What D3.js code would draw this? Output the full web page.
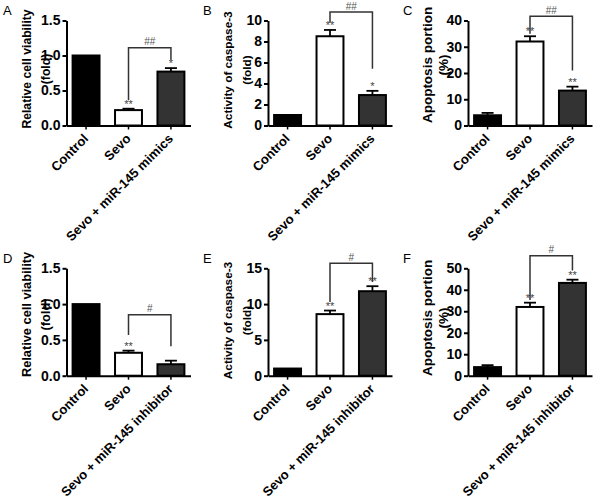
<!DOCTYPE html>
<html>
<head>
<meta charset="utf-8">
<script src="https://cdn.jsdelivr.net/npm/d3@7"></script>
<style>
  html, body { margin: 0; padding: 0; background: #fff; }
  svg { display: block; }
  text { font-family: "Liberation Sans", Arial, sans-serif; }
</style>
</head>
<body>
<svg id="chart" width="600" height="503"></svg>
<script>
// ---------------- DATA ----------------
const categoriesMimics = ["Control", "Sevo", "Sevo + miR-145 mimics"];
const categoriesInhibitor = ["Control", "Sevo", "Sevo + miR-145 inhibitor"];

const viabilityMimics = [1.0, 0.22, 0.77];
const viabilityMimicsErr = [0, 0.02, 0.05];
const caspaseMimics = [1.0, 8.5, 2.9];
const caspaseMimicsErr = [0, 0.6, 0.4];
const apoptosisMimics = [3.9, 32.0, 13.3];
const apoptosisMimicsErr = [0.9, 2.0, 1.5];

const viabilityInhibitor = [1.0, 0.32, 0.16];
const viabilityInhibitorErr = [0, 0.03, 0.05];
const caspaseInhibitor = [1.0, 8.6, 11.8];
const caspaseInhibitorErr = [0, 0.5, 0.7];
const apoptosisInhibitor = [4.0, 32.0, 43.2];
const apoptosisInhibitorErr = [0.9, 2.0, 1.5];

const starsA = ["", "**", "*"];
const starsB = ["", "**", "*"];
const starsC = ["", "**", "**"];
const starsD = ["", "**", ""];
const starsE = ["", "**", "**"];
const starsF = ["", "**", "**"];

// bracket between Sevo and treated group: [top level, left leg end, right leg end] in data units
const bracketA = [1.11, 0.36, 0.94];
const bracketB = [10.8, 9.8, 5.4];
const bracketC = [41.6, 35.0, 21.0];
const bracketD = [0.85, 0.57, 0.41];
const bracketE = [15.7, 10.3, 13.1];
const bracketF = [55.8, 35.3, 49.0];
const bracketLabelsTop = "##";
const bracketLabelsBottom = "#";

const ticksViability = [0, 0.5, 1.0, 1.5];
const ticksCaspaseMimics = [0, 2, 4, 6, 8, 10];
const ticksApoptosisMimics = [0, 10, 20, 30, 40];
const ticksCaspaseInhibitor = [0, 5, 10, 15];
const ticksApoptosisInhibitor = [0, 10, 20, 30, 40, 50];

const titleViability = ["Relative cell viability", "(fold)"];
const titleCaspase = ["Activity of caspase-3", "(fold)"];
const titleApoptosis = ["Apoptosis portion", "(%)"];

const panelLetters = ["A", "B", "C", "D", "E", "F"];

// ---------------- LAYOUT / STYLE ----------------
const colAxisX = [66.5, 268, 468];
const rowZero = [125.5, 375.7];
const rowTop = [20.5, 268.3];
const letterX = [3, 203, 403];
const letterY = [15, 263];
const barFills = ["#000000", "#ffffff", "#333333"];

const panels = [
  {cats: categoriesMimics, vals: viabilityMimics, errs: viabilityMimicsErr, stars: starsA, br: bracketA, brl: bracketLabelsTop, ticks: ticksViability, fmt: d3.format(".1f"), title: titleViability, col: 0, row: 0, tfs: 12.2, tcy: 69, t1: -36, t2: -17},
  {cats: categoriesMimics, vals: caspaseMimics, errs: caspaseMimicsErr, stars: starsB, br: bracketB, brl: bracketLabelsTop, ticks: ticksCaspaseMimics, fmt: d3.format("d"), title: titleCaspase, col: 1, row: 0, tfs: 11.8, tcy: 70, t1: -36, t2: -17},
  {cats: categoriesMimics, vals: apoptosisMimics, errs: apoptosisMimicsErr, stars: starsC, br: bracketC, brl: bracketLabelsTop, ticks: ticksApoptosisMimics, fmt: d3.format("d"), title: titleApoptosis, col: 2, row: 0, tfs: 13.5, tcy: 65, t1: -36, t2: -20},
  {cats: categoriesInhibitor, vals: viabilityInhibitor, errs: viabilityInhibitorErr, stars: starsD, br: bracketD, brl: bracketLabelsBottom, ticks: ticksViability, fmt: d3.format(".1f"), title: titleViability, col: 0, row: 1, tfs: 12.8, tcy: 314.5, t1: -36, t2: -17},
  {cats: categoriesInhibitor, vals: caspaseInhibitor, errs: caspaseInhibitorErr, stars: starsE, br: bracketE, brl: bracketLabelsBottom, ticks: ticksCaspaseInhibitor, fmt: d3.format("d"), title: titleCaspase, col: 1, row: 1, tfs: 11.8, tcy: 320.5, t1: -36, t2: -17},
  {cats: categoriesInhibitor, vals: apoptosisInhibitor, errs: apoptosisInhibitorErr, stars: starsF, br: bracketF, brl: bracketLabelsBottom, ticks: ticksApoptosisInhibitor, fmt: d3.format("d"), title: titleApoptosis, col: 2, row: 1, tfs: 13.5, tcy: 318, t1: -36, t2: -20}
];

const svg = d3.select("#chart");

panels.forEach((p, i) => {
  const ax = colAxisX[p.col];
  const zero = rowZero[p.row];
  const top = rowTop[p.row];
  const g = svg.append("g");

  const y = d3.scaleLinear().domain([0, d3.max(p.ticks)]).range([zero, top]);
  const x = d3.scaleBand().domain(p.cats).range([ax, ax + 124]).paddingInner(0.318).paddingOuter(0.12);
  const bw = x.bandwidth();
  const cx = d => x(d) + bw / 2;

  const rows = p.cats.map((c, k) => ({c, v: p.vals[k], e: p.errs[k], s: p.stars[k], fill: barFills[k]}));

  // error bars
  g.selectAll(".err").data(rows.filter(r => r.e > 0)).join("g").each(function(r) {
    const gg = d3.select(this);
    gg.append("line").attr("x1", cx(r.c)).attr("x2", cx(r.c)).attr("y1", y(r.v)).attr("y2", y(r.v + r.e))
      .attr("stroke", "#000").attr("stroke-width", 1.8);
    gg.append("line").attr("x1", cx(r.c) - 6).attr("x2", cx(r.c) + 6).attr("y1", y(r.v + r.e)).attr("y2", y(r.v + r.e))
      .attr("stroke", "#000").attr("stroke-width", 1.8);
  });

  // bars
  g.selectAll(".bar").data(rows).join("rect")
    .attr("x", r => x(r.c) + 1)
    .attr("y", r => y(r.v))
    .attr("width", bw - 2)
    .attr("height", r => zero - y(r.v))
    .attr("fill", r => r.fill)
    .attr("stroke", "#000")
    .attr("stroke-width", 2);

  // stars
  g.selectAll(".star").data(rows.filter(r => r.s)).join("text")
    .attr("x", r => cx(r.c))
    .attr("y", r => y(r.v + r.e) - 1)
    .attr("text-anchor", "middle")
    .attr("font-size", 11)
    .attr("fill", "#444")
    .text(r => r.s);

  // bracket
  const xl = cx(p.cats[1]), xr = cx(p.cats[2]);
  g.append("path")
    .attr("d", `M${xl},${y(p.br[1])}V${y(p.br[0])}H${xr}V${y(p.br[2])}`)
    .attr("fill", "none").attr("stroke", "#333").attr("stroke-width", 1.5);
  g.append("text")
    .attr("x", (xl + xr) / 2).attr("y", y(p.br[0]) - 2.5)
    .attr("text-anchor", "middle").attr("font-size", 10).attr("fill", "#555")
    .text(p.brl);

  // y axis
  const yAxis = g.append("g").attr("transform", `translate(${ax},0)`)
    .call(d3.axisLeft(y).tickValues(p.ticks).tickFormat(p.fmt).tickSize(4).tickSizeOuter(0).tickPadding(2));
  yAxis.select(".domain").attr("stroke-width", 2);
  yAxis.selectAll(".tick line").attr("stroke-width", 2);
  yAxis.selectAll(".tick text").attr("font-size", 14).attr("font-weight", "bold").attr("fill", "#000")
    .style("font-family", "'Liberation Sans', Arial, sans-serif");

  // x axis
  const xAxis = g.append("g").attr("transform", `translate(0,${zero})`)
    .call(d3.axisBottom(x).tickSize(4).tickSizeOuter(0).tickPadding(3));
  xAxis.select(".domain").attr("stroke-width", 2);
  xAxis.selectAll(".tick line").attr("stroke-width", 1.5);
  xAxis.selectAll(".tick text")
    .attr("font-size", 13).attr("font-weight", "bold").attr("fill", "#000")
    .style("font-family", "'Liberation Sans', Arial, sans-serif")
    .attr("text-anchor", "end")
    .attr("dy", null)
    .attr("y", 0)
    .attr("transform", "translate(3,14) rotate(-45)");

  // y title
  const tt = g.append("text")
    .attr("transform", `translate(${ax},${p.tcy}) rotate(-90)`)
    .attr("text-anchor", "middle").attr("font-weight", "bold").attr("font-size", p.tfs);
  tt.append("tspan").attr("x", 0).attr("y", p.t1).text(p.title[0]);
  tt.append("tspan").attr("x", 0).attr("y", p.t2).text(p.title[1]);

  // panel letter
  g.append("text").attr("x", letterX[p.col]).attr("y", letterY[p.row])
    .attr("font-size", 13).attr("fill", "#000").text(panelLetters[i]);
});
</script>
</body>
</html>
